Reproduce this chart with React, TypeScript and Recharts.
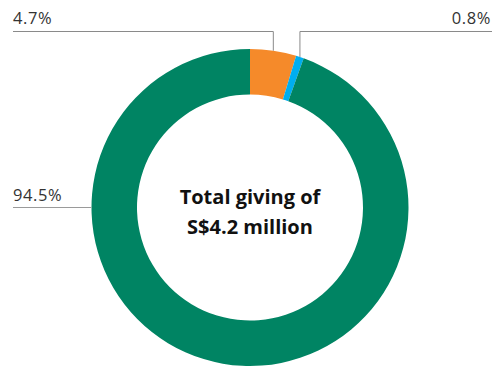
import { PieChart, Pie, Cell } from 'recharts'

const SEGMENTS = ['Segment A', 'Segment B', 'Segment C']
const SHARES = [4.7, 0.8, 94.5]
const LABELS = ['4.7%', '0.8%', '94.5%']
const COLORS = ['#f58a2a', '#00aeef', '#008463']
const CENTER_LINES = ['Total giving of', 'S$4.2 million']

const data = SEGMENTS.map((name, i) => ({ name, value: SHARES[i], label: LABELS[i] }))

const RAD = Math.PI / 180
const LINE_Y = 31.5
const FONT = '"Open Sans", "Noto Sans", sans-serif'

function renderLabel(props: any) {
  const { cx, cy, midAngle, outerRadius, index } = props
  const label = LABELS[index]
  const textStyle = { fontFamily: FONT, fontSize: 16.5, letterSpacing: 0.6, fill: '#333' }

  if (index === 0 || index === 1) {
    // elbow: vertical up from slice edge, then horizontal out to the page edge
    const x = cx + outerRadius * Math.cos(-midAngle * RAD)
    const y = cy + outerRadius * Math.sin(-midAngle * RAD)
    const left = index === 0
    const endX = left ? 13 : 492
    return (
      <g key={`lbl-${index}`}>
        <polyline
          points={`${x},${y} ${x},${LINE_Y} ${endX},${LINE_Y}`}
          fill="none"
          stroke="#8a8a8a"
          strokeWidth={1}
        />
        <text x={left ? 13 : 491} y={24} textAnchor={left ? 'start' : 'end'} style={textStyle}>
          {label}
        </text>
      </g>
    )
  }

  // big slice: label on the left side at the ring's left edge
  const edgeX = cx - outerRadius
  return (
    <g key={`lbl-${index}`}>
      <line x1={13} y1={cy} x2={edgeX} y2={cy} stroke="#9a9a9a" strokeWidth={1} />
      <text x={13} y={cy - 7} textAnchor="start" style={textStyle}>
        {label}
      </text>
    </g>
  )
}

export default function App() {
  const center = { fontFamily: FONT, fontSize: 20, fontWeight: 700, fill: '#111' }
  return (
    <div style={{ position: 'absolute', left: 0, top: 0, width: 492, height: 368, background: '#fff' }}>
      <PieChart width={492} height={368} margin={{ top: 0, right: 0, bottom: 0, left: 0 }}>
        <Pie
          data={data}
          dataKey="value"
          cx={250}
          cy={207.5}
          innerRadius={113}
          outerRadius={158.5}
          startAngle={90}
          endAngle={-270}
          stroke="none"
          label={renderLabel}
          labelLine={false}
          isAnimationActive={false}
        >
          {data.map((_, i) => (
            <Cell key={i} fill={COLORS[i]} />
          ))}
        </Pie>
        <text x={250} y={204} textAnchor="middle" style={center}>
          {CENTER_LINES[0]}
        </text>
        <text x={250} y={234} textAnchor="middle" style={center}>
          {CENTER_LINES[1]}
        </text>
      </PieChart>
    </div>
  )
}
